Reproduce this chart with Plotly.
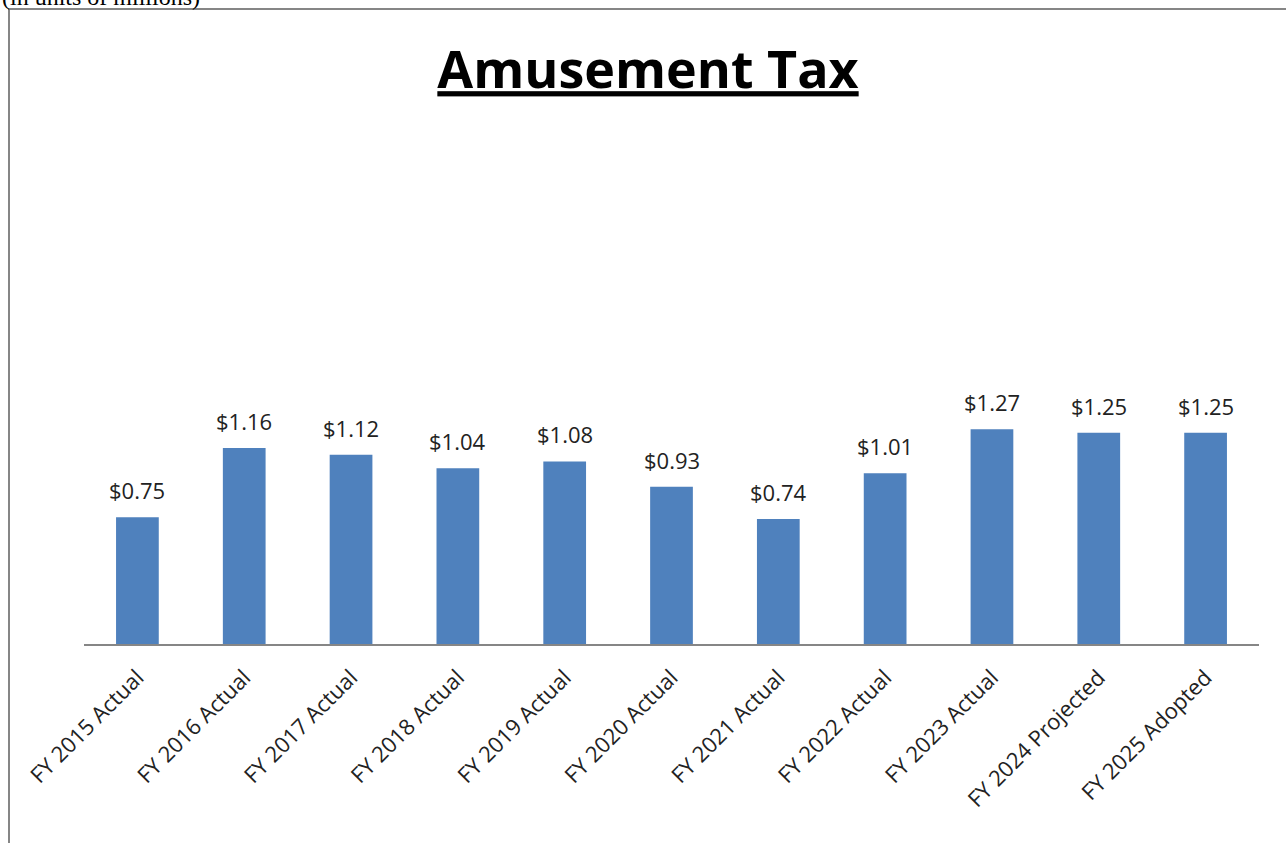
import plotly.graph_objects as go

categories = ["FY 2015 Actual", "FY 2016 Actual", "FY 2017 Actual", "FY 2018 Actual",
              "FY 2019 Actual", "FY 2020 Actual", "FY 2021 Actual", "FY 2022 Actual",
              "FY 2023 Actual", "FY 2024 Projected", "FY 2025 Adopted"]
revenue = [0.75, 1.16, 1.12, 1.04, 1.08, 0.93, 0.74, 1.01, 1.27, 1.25, 1.25]

BAR_BLUE = "#4F81BD"
LINE_GREY = "#868686"

W, H = 1286, 843
L, R, T, B = 84, 27, 150, 199
pw, ph = W - L - R, H - T - B


def px_x(p):
    # page pixel -> paper x
    return (p - L) / pw


def px_y(p):
    # page pixel -> paper y
    return (H - B - p) / ph


fig = go.Figure()
fig.add_trace(go.Bar(
    x=categories, y=revenue,
    marker=dict(color=BAR_BLUE, line=dict(width=0)),
    hoverinfo="x+y",
))

# data labels
for c, v in zip(categories, revenue):
    fig.add_annotation(x=c, y=v, text=f"${v:.2f}", showarrow=False,
                       yanchor="bottom", yshift=10,
                       font=dict(family="Open Sans", size=22, color="#222222"))

# header note, cut off at the top of the page
fig.add_annotation(xref="paper", yref="paper", x=px_x(0), y=px_y(12),
                   xanchor="left", yanchor="bottom", showarrow=False,
                   text="(in units of millions)",
                   font=dict(family="Liberation Serif", size=24, color="#000000"))

# outer frame
fig.add_shape(type="rect", xref="paper", yref="paper",
              x0=px_x(9), x1=px_x(1300), y0=px_y(870), y1=px_y(9),
              line=dict(color=LINE_GREY, width=2), layer="below")

fig.update_layout(
    width=W, height=H,
    margin=dict(l=L, r=R, t=T, b=B),
    plot_bgcolor="white", paper_bgcolor="white",
    bargap=0.6,
    showlegend=False,
    title=dict(text="<b><u>Amusement Tax</u></b>", xref="container",
               x=648 / W, xanchor="center", y=1 - 70 / H, yanchor="middle",
               font=dict(family="Open Sans", size=52, color="#000000")),
)
fig.update_xaxes(showline=True, linecolor=LINE_GREY, linewidth=2, ticks="",
                 tickangle=-45, showgrid=False, ticklabelstandoff=10,
                 tickfont=dict(family="Open Sans", size=22, color="#222222"))
fig.update_yaxes(range=[0, ph / 169], visible=False, showgrid=False, zeroline=False)

# drop the browser's default body margin so the figure starts at the page corner
fig.write_html("out.html", config={"displayModeBar": False},
               post_script="document.body.style.margin = '0';")
